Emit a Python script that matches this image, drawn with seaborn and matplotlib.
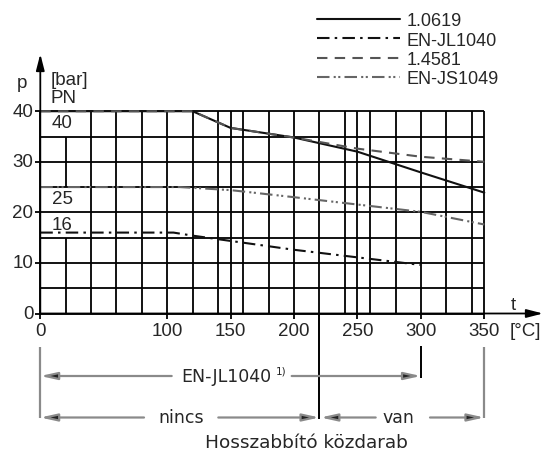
import numpy as np
import pandas as pd
import matplotlib
matplotlib.use('Agg')
import matplotlib.pyplot as plt
from matplotlib.lines import Line2D
import seaborn as sns

# Pressure / temperature ratings
series_names = ['1.0619', 'EN-JL1040', '1.4581', 'EN-JS1049']

t_10619 = [0, 120, 150, 200, 250, 300, 350]
p_10619 = [40, 40, 36.7, 34.8, 32.0, 27.9, 23.9]

t_jl1040 = [0, 105, 120, 200, 300]
p_jl1040 = [16, 16, 15.4, 12.6, 9.6]

t_14581 = [0, 120, 150, 200, 250, 300, 350]
p_14581 = [40, 40, 36.7, 34.8, 32.6, 31.0, 30.0]

t_js1049 = [0, 110, 150, 200, 300, 350]
p_js1049 = [25, 25, 24.4, 23.0, 20.1, 17.6]

x_tick_values = [0, 100, 150, 200, 250, 300, 350]
y_tick_values = [0, 10, 20, 30, 40]
grid_t = [0, 40, 60, 80, 100, 120, 140, 150, 160, 180, 200, 220,
          240, 250, 260, 280, 300, 320, 340, 350]
grid_p = [0, 5, 10, 15, 20, 25, 30, 35, 40]
pn_values = [40, 25, 16]

# pixel geometry of the original drawing
W, H = 543, 452
x0_px, px_per_deg = 40.3, 1.2686
y0_px, px_per_bar = 314.5, 5.057


def tx(px):
    return (px - x0_px) / px_per_deg


def py(px):
    return (y0_px - px) / px_per_bar


sns.set_style('white')
plt.rcParams['font.family'] = ['Liberation Sans', 'DejaVu Sans']
fs = 13.5
lfs = 13
lfs_px = lfs * 100 / 72
glw = 1.3

fig = plt.figure(figsize=(W / 100, H / 100), dpi=100)
ax = fig.add_axes([0, 0, 1, 1])
ax.set_xlim(tx(0), tx(W))
ax.set_ylim(py(H), py(0))
ax.axis('off')

# grid
ax.hlines(grid_p, 0, 350, color='k', lw=glw)
ax.vlines(grid_t, 0, 40, color='k', lw=glw)
ax.vlines(20, 0, 15, color='k', lw=glw)
ax.vlines(20, 25, 35, color='k', lw=glw)
ax.hlines(y_tick_values, -4, 0, color='k', lw=glw)
ax.vlines(x_tick_values, -1, 0, color='k', lw=glw)

# axes with arrows
ax_arrow = dict(arrowstyle='-|>,head_length=0.7,head_width=0.18', color='k',
                lw=glw, shrinkA=0, shrinkB=0, mutation_scale=14)
ax.annotate('', xy=(0, py(55)), xytext=(0, 0), arrowprops=ax_arrow)
ax.annotate('', xy=(tx(W), 0), xytext=(0, 0), arrowprops=ax_arrow)

# curves
df = pd.concat([
    pd.DataFrame({'t': t_10619, 'p': p_10619, 'material': '1.0619'}),
    pd.DataFrame({'t': t_jl1040, 'p': p_jl1040, 'material': 'EN-JL1040'}),
    pd.DataFrame({'t': t_14581, 'p': p_14581, 'material': '1.4581'}),
    pd.DataFrame({'t': t_js1049, 'p': p_js1049, 'material': 'EN-JS1049'}),
], ignore_index=True)

palette = {'1.0619': '#111111', 'EN-JL1040': '#111111',
           '1.4581': '#555555', 'EN-JS1049': '#666666'}
dash_map = {'1.0619': '', 'EN-JL1040': (6, 2.5, 1.2, 2.5),
            '1.4581': (5, 3.5), 'EN-JS1049': (6, 2, 1, 1.2, 1, 2)}
lw = 1.5
sns.lineplot(data=df, x='t', y='p', hue='material', style='material',
             hue_order=series_names, style_order=series_names,
             palette=palette, dashes=dash_map, estimator=None, sort=False,
             linewidth=lw, legend=False, ax=ax)

handles = []
for n in series_names:
    ls = '-' if dash_map[n] == '' else (0, dash_map[n])
    handles.append(Line2D([], [], color=palette[n], lw=lw, linestyle=ls))
ax.legend(handles, series_names, loc='upper left',
          bbox_to_anchor=(316.7 / W, 1 - 13.5 / H), bbox_transform=fig.transFigure,
          frameon=False, borderpad=0, borderaxespad=0,
          handlelength=83.3 / lfs_px, handletextpad=7 / lfs_px,
          labelspacing=0.12, prop={'size': lfs})

# tick labels
for v in x_tick_values:
    ax.text(v, py(331.7), str(v), ha='center', va='center', fontsize=fs)
for v in y_tick_values:
    ax.text(tx(33.5), v, str(v), ha='right', va='center', fontsize=fs)

ax.text(tx(513.3), py(305), 't', ha='center', va='center', fontsize=fs)
ax.text(tx(525.5), py(331.7), '[°C]', ha='center', va='center', fontsize=fs)
ax.text(tx(21.7), py(83.3), 'p', ha='center', va='center', fontsize=fs)
ax.text(tx(50.7), py(80.7), '[bar]', ha='left', va='center', fontsize=fs)
ax.text(tx(50.7), py(98.3), 'PN', ha='left', va='center', fontsize=fs)
for v, ypx in zip(pn_values, [124, 200, 225.5]):
    ax.text(tx(51.7), py(ypx), str(v), ha='left', va='center', fontsize=fs)

# ranges below the axis
wide = ['DejaVu Sans']
bfs = 12.5
row1, row2 = py(377), py(418.5)
arr = dict(arrowstyle='-|>,head_length=0.9,head_width=0.2', edgecolor='#8a8a8a',
           facecolor='#222222', lw=1.6, shrinkA=0, shrinkB=0, mutation_scale=11)

ax.vlines([0, 350], py(348), py(419), color='#8a8a8a', lw=1.6)
ax.vlines(300, py(347), py(379), color='k', lw=1.4)
ax.vlines(220, py(420), 0, color='k', lw=1.4)

ax.text(tx(225.9), row1, 'EN-JL1040', ha='center', va='center',
        fontsize=bfs, family=wide)
ax.text(tx(281), py(372), '1)', ha='center', va='center', fontsize=7.5,
        family=wide)
ax.annotate('', xy=(0, row1), xytext=(tx(171.7), row1), arrowprops=arr)
ax.annotate('', xy=(300, row1), xytext=(tx(291.7), row1), arrowprops=arr)

ax.text(tx(180.8), row2, 'nincs', ha='center', va='center',
        fontsize=bfs, family=wide)
ax.annotate('', xy=(0, row2), xytext=(tx(144), row2), arrowprops=arr)
ax.annotate('', xy=(220, row2), xytext=(tx(218.3), row2), arrowprops=arr)

ax.text(tx(398), row2, 'van', ha='center', va='center',
        fontsize=bfs, family=wide)
ax.annotate('', xy=(tx(320.5), row2), xytext=(tx(375.7), row2), arrowprops=arr)
ax.annotate('', xy=(350, row2), xytext=(tx(430), row2), arrowprops=arr)

ax.text(tx(306.5), py(443), 'Hosszabbító közdarab', ha='center', va='center',
        fontsize=13.3, family=wide)

fig.savefig('out.png', dpi=100)
